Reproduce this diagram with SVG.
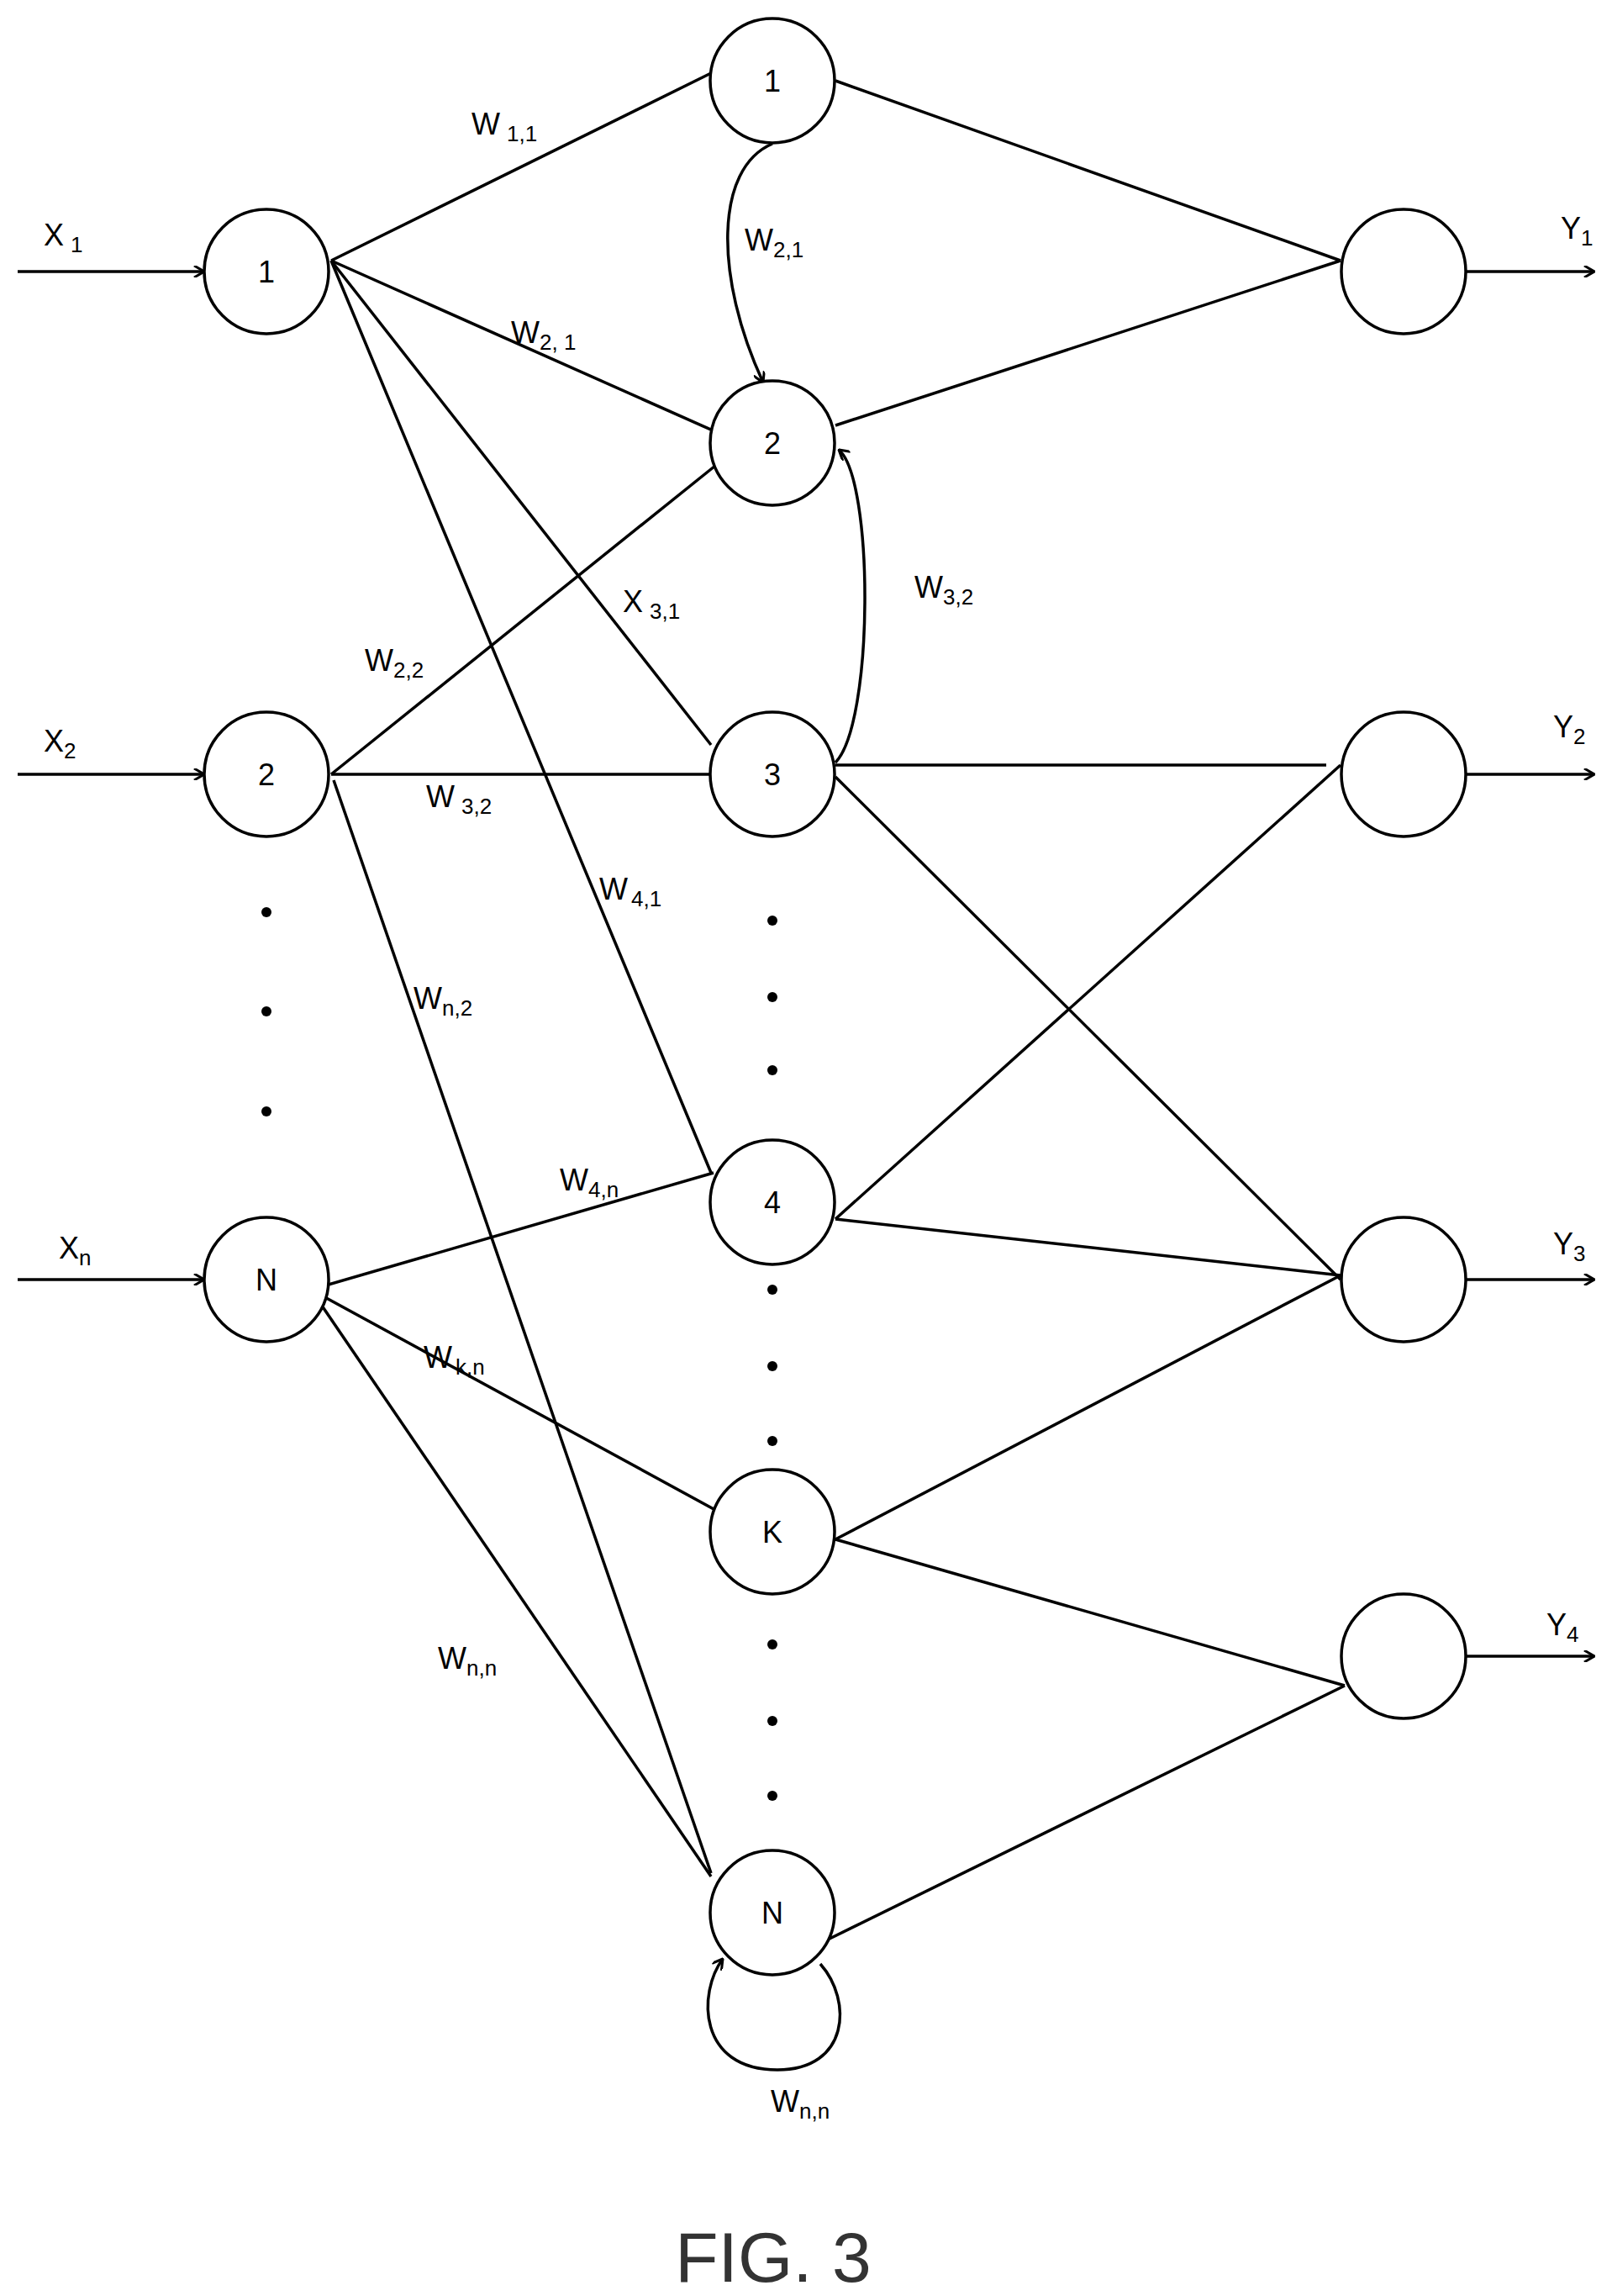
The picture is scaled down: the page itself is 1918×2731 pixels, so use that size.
<svg xmlns="http://www.w3.org/2000/svg" width="1918" height="2731" viewBox="0 0 1918 2731">
<style>
.n{fill:#fff;stroke:#000;stroke-width:3.5}
.e{fill:none;stroke:#000;stroke-width:3.5}
text{font-family:"Liberation Sans",Arial,sans-serif;font-size:36px;fill:#000}
.c{text-anchor:middle}
.s{font-size:26px}
.f{font-size:84px;fill:#333}
</style>
<defs><marker id="a" markerWidth="14" markerHeight="14" refX="13" refY="7" orient="auto" markerUnits="userSpaceOnUse" viewBox="0 0 14 14"><path d="M1,0 L13,7 L1,14" fill="none" stroke="#000" stroke-width="3"/></marker></defs>
<rect width="1918" height="2731" fill="#fff"/>
<g id="connectors">
<line class="e" x1="21" y1="323" x2="243" y2="323" marker-end="url(#a)"/>
<line class="e" x1="21" y1="921" x2="243" y2="921" marker-end="url(#a)"/>
<line class="e" x1="21" y1="1522" x2="243" y2="1522" marker-end="url(#a)"/>
<line class="e" x1="1744" y1="323" x2="1897" y2="323" marker-end="url(#a)"/>
<line class="e" x1="1744" y1="921" x2="1897" y2="921" marker-end="url(#a)"/>
<line class="e" x1="1744" y1="1522" x2="1897" y2="1522" marker-end="url(#a)"/>
<line class="e" x1="1744" y1="1970" x2="1897" y2="1970" marker-end="url(#a)"/>
<line class="e" x1="394" y1="310" x2="846" y2="87"/>
<line class="e" x1="394" y1="310" x2="866" y2="520"/>
<line class="e" x1="394" y1="310" x2="846" y2="886"/>
<line class="e" x1="394" y1="310" x2="846" y2="1395"/>
<line class="e" x1="394" y1="921" x2="851" y2="554"/>
<line class="e" x1="394" y1="921" x2="846" y2="921"/>
<line class="e" x1="397" y1="928" x2="846" y2="2228"/>
<line class="e" x1="370" y1="1534" x2="849" y2="1395"/>
<line class="e" x1="370" y1="1534" x2="851" y2="1796"/>
<line class="e" x1="370" y1="1534" x2="846" y2="2232"/>
<line class="e" x1="994" y1="96" x2="1595" y2="310"/>
<line class="e" x1="994" y1="506" x2="1595" y2="310"/>
<line class="e" x1="994" y1="910" x2="1578" y2="910"/>
<line class="e" x1="994" y1="924" x2="1595" y2="1522"/>
<line class="e" x1="994" y1="1450" x2="1595" y2="910"/>
<line class="e" x1="994" y1="1450" x2="1595" y2="1517"/>
<line class="e" x1="994" y1="1831" x2="1595" y2="1517"/>
<line class="e" x1="994" y1="1831" x2="1600" y2="2005"/>
<line class="e" x1="985" y1="2307" x2="1600" y2="2005"/>
<path class="e" d="M919,171 C850,200 850,330 908,455" marker-end="url(#a)"/>
<path class="e" d="M994,907 C1040,860 1040,570 998,535" marker-end="url(#a)"/>
<path class="e" d="M976,2336 C1015,2380 1010,2462 925,2462 C830,2462 830,2370 860,2330" marker-end="url(#a)"/>
</g>
<g id="in1"><circle class="n" cx="317" cy="323" r="74"/><text class="c" x="317" y="336">1</text></g>
<g id="in2"><circle class="n" cx="317" cy="921" r="74"/><text class="c" x="317" y="934">2</text></g>
<g id="inN"><circle class="n" cx="317" cy="1522" r="74"/><text class="c" x="317" y="1535">N</text></g>
<g id="h1"><circle class="n" cx="919" cy="96" r="74"/><text class="c" x="919" y="109">1</text></g>
<g id="h2"><circle class="n" cx="919" cy="527" r="74"/><text class="c" x="919" y="540">2</text></g>
<g id="h3"><circle class="n" cx="919" cy="921" r="74"/><text class="c" x="919" y="934">3</text></g>
<g id="h4"><circle class="n" cx="919" cy="1430" r="74"/><text class="c" x="919" y="1443">4</text></g>
<g id="hK"><circle class="n" cx="919" cy="1822" r="74"/><text class="c" x="919" y="1835">K</text></g>
<g id="hN"><circle class="n" cx="919" cy="2275" r="74"/><text class="c" x="919" y="2288">N</text></g>
<g id="o1"><circle class="n" cx="1670" cy="323" r="74"/></g>
<g id="o2"><circle class="n" cx="1670" cy="921" r="74"/></g>
<g id="o3"><circle class="n" cx="1670" cy="1522" r="74"/></g>
<g id="o4"><circle class="n" cx="1670" cy="1970" r="74"/></g>
<g id="dots">
<circle cx="317" cy="1085" r="6"/><circle cx="317" cy="1203" r="6"/><circle cx="317" cy="1322" r="6"/>
<circle cx="919" cy="1095" r="6"/><circle cx="919" cy="1186" r="6"/><circle cx="919" cy="1273" r="6"/>
<circle cx="919" cy="1534" r="6"/><circle cx="919" cy="1625" r="6"/><circle cx="919" cy="1714" r="6"/>
<circle cx="919" cy="1956" r="6"/><circle cx="919" cy="2047" r="6"/><circle cx="919" cy="2136" r="6"/>
</g>
<g id="labels">
<text x="52" y="292">X<tspan class="s" dx="8" dy="8">1</tspan></text>
<text x="52" y="894">X<tspan class="s" dy="8">2</tspan></text>
<text x="70" y="1497">X<tspan class="s" dy="8">n</tspan></text>
<text x="1857" y="284">Y<tspan class="s" dy="8">1</tspan></text>
<text x="1848" y="877">Y<tspan class="s" dy="8">2</tspan></text>
<text x="1848" y="1492">Y<tspan class="s" dy="8">3</tspan></text>
<text x="1840" y="1945">Y<tspan class="s" dy="8">4</tspan></text>
<text x="561" y="160">W<tspan class="s" dx="8" dy="8">1,1</tspan></text>
<text x="886" y="298">W<tspan class="s" dy="8">2,1</tspan></text>
<text x="608" y="408">W<tspan class="s" dy="8">2, 1</tspan></text>
<text x="741" y="728">X<tspan class="s" dx="8" dy="8">3,1</tspan></text>
<text x="1088" y="711">W<tspan class="s" dy="8">3,2</tspan></text>
<text x="434" y="798">W<tspan class="s" dy="8">2,2</tspan></text>
<text x="507" y="960">W<tspan class="s" dx="8" dy="8">3,2</tspan></text>
<text x="713" y="1070">W<tspan class="s" dx="4" dy="8">4,1</tspan></text>
<text x="492" y="1200">W<tspan class="s" dy="8">n,2</tspan></text>
<text x="666" y="1416">W<tspan class="s" dy="8">4,n</tspan></text>
<text x="504" y="1627">W<tspan class="s" dx="4" dy="8">k,n</tspan></text>
<text x="521" y="1985">W<tspan class="s" dy="8">n,n</tspan></text>
<text x="917" y="2512">W<tspan class="s" dy="8">n,n</tspan></text>
<text class="c f" x="920" y="2714">FIG. 3</text>
</g>
</svg>
